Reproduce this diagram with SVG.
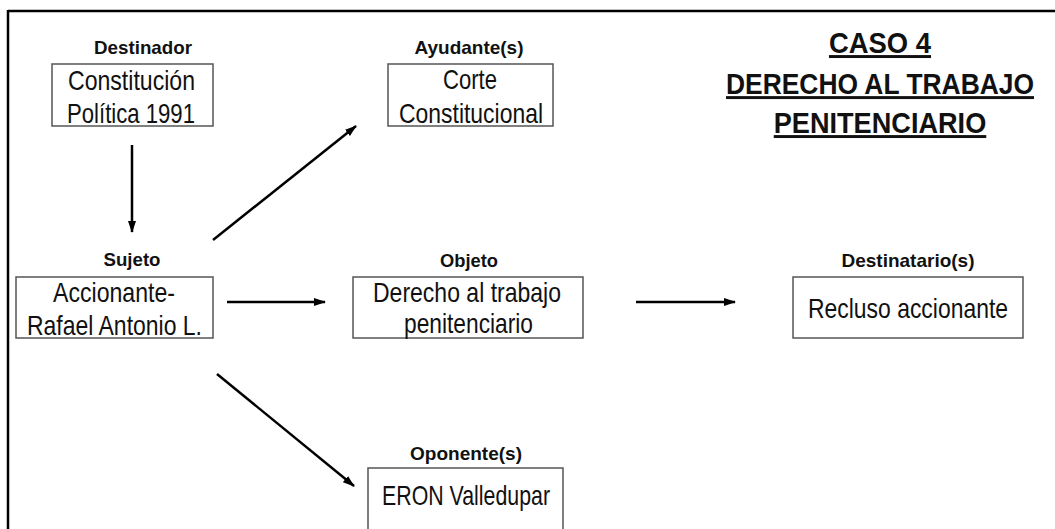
<svg xmlns="http://www.w3.org/2000/svg" width="1055" height="529" viewBox="0 0 1055 529">
  <style>
    .box { fill: #ffffff; stroke: #555555; stroke-width: 1.5; }
    .lbl { font-family: "Liberation Sans", Arial, sans-serif; font-weight: bold; font-size: 19px; fill: #111111; text-anchor: middle; }
    .txt { font-family: "Liberation Sans", Arial, sans-serif; font-size: 28px; fill: #111111; text-anchor: middle; }
    .ttl { font-family: "Liberation Sans", Arial, sans-serif; font-weight: bold; font-size: 29.5px; fill: #111111; text-anchor: middle; text-decoration: underline; }
    .edge { stroke: #000000; stroke-width: 2.5; fill: none; marker-end: url(#arrow); }
  </style>
  <defs>
    <marker id="arrow" markerUnits="userSpaceOnUse" markerWidth="12" markerHeight="10" refX="11" refY="5" orient="auto">
      <path d="M0,1 L12,5 L0,9 Z" fill="#000000"/>
    </marker>
  </defs>
  <rect width="1055" height="529" fill="#ffffff"/>
  <g id="frame">
    <line x1="8" y1="11" x2="1055" y2="11" stroke="#000" stroke-width="2.5"/>
    <line x1="8" y1="10" x2="8" y2="529" stroke="#000" stroke-width="2.5"/>
  </g>
  <g id="title">
    <text class="ttl" transform="translate(880,53) scale(0.93,1)">CASO 4</text>
    <text class="ttl" transform="translate(880,94) scale(0.895,1)">DERECHO AL TRABAJO</text>
    <text class="ttl" transform="translate(880,133) scale(0.92,1)">PENITENCIARIO</text>
  </g>
  <g id="connectors">
    <line class="edge" x1="132" y1="145" x2="132" y2="232"/>
    <line class="edge" x1="213" y1="240" x2="356" y2="126"/>
    <line class="edge" x1="227" y1="302" x2="325" y2="302"/>
    <line class="edge" x1="636" y1="302" x2="735" y2="302"/>
    <line class="edge" x1="217" y1="374" x2="354" y2="486"/>
  </g>
  <g id="destinador">
    <text class="lbl" x="143" y="54" textLength="98" lengthAdjust="spacingAndGlyphs">Destinador</text>
    <rect class="box" x="52" y="64" width="161" height="62"/>
    <text class="txt" x="131.5" y="90" textLength="127" lengthAdjust="spacingAndGlyphs">Constitución</text>
    <text class="txt" x="131" y="123" textLength="128" lengthAdjust="spacingAndGlyphs">Política 1991</text>
  </g>
  <g id="ayudante">
    <text class="lbl" x="469" y="54" textLength="109" lengthAdjust="spacingAndGlyphs">Ayudante(s)</text>
    <rect class="box" x="388" y="64" width="165" height="62"/>
    <text class="txt" x="470" y="89" textLength="54" lengthAdjust="spacingAndGlyphs">Corte</text>
    <text class="txt" x="471" y="123" textLength="144" lengthAdjust="spacingAndGlyphs">Constitucional</text>
  </g>
  <g id="sujeto">
    <text class="lbl" x="132" y="266" textLength="57" lengthAdjust="spacingAndGlyphs">Sujeto</text>
    <rect class="box" x="16" y="277" width="197" height="61"/>
    <text class="txt" x="114" y="302" textLength="122" lengthAdjust="spacingAndGlyphs">Accionante-</text>
    <text class="txt" x="114.5" y="335" textLength="175" lengthAdjust="spacingAndGlyphs">Rafael Antonio L.</text>
  </g>
  <g id="objeto">
    <text class="lbl" x="469" y="267" textLength="58" lengthAdjust="spacingAndGlyphs">Objeto</text>
    <rect class="box" x="353" y="277" width="230" height="61"/>
    <text class="txt" x="467" y="302" textLength="188" lengthAdjust="spacingAndGlyphs">Derecho al trabajo</text>
    <text class="txt" x="468.5" y="333" textLength="129" lengthAdjust="spacingAndGlyphs">penitenciario</text>
  </g>
  <g id="destinatario">
    <text class="lbl" x="908" y="267" textLength="133" lengthAdjust="spacingAndGlyphs">Destinatario(s)</text>
    <rect class="box" x="793" y="277" width="230" height="61"/>
    <text class="txt" x="908" y="318" font-size="26" textLength="200" lengthAdjust="spacingAndGlyphs">Recluso accionante</text>
  </g>
  <g id="oponente">
    <text class="lbl" x="466" y="460" textLength="112" lengthAdjust="spacingAndGlyphs">Oponente(s)</text>
    <rect class="box" x="368" y="468" width="195" height="70"/>
    <text class="txt" x="466" y="505" font-size="27" textLength="168" lengthAdjust="spacingAndGlyphs">ERON Valledupar</text>
  </g>
</svg>
